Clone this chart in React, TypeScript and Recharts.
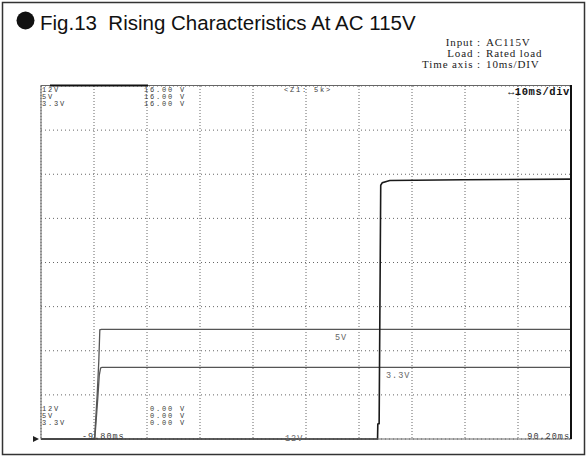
import { LineChart, Line, XAxis, YAxis, CartesianGrid } from "recharts";

// time in ms, voltage in V (scope: 10ms/div, 16V full scale)
const timeDomain = [-9.8, 90.2];
const voltDomain = [0, 16];
const timeGrid = [0.2, 10.2, 20.2, 30.2, 40.2, 50.2, 60.2, 70.2, 80.2];
const voltGrid = [2, 4, 6, 8, 10, 12, 14];

const t12 = [-9.8, 53.7, 53.75, 54.0, 54.3, 54.6, 56.0, 70.0, 90.2];
const v12 = [0, 0, 0.68, 0.7, 11.5, 11.62, 11.72, 11.75, 11.78];
const t5 = [-9.8, 0.3, 0.8, 1.1, 1.3, 1.6, 90.2];
const v5 = [0, 0, 2.0, 3.5, 4.95, 4.97, 4.97];
const t33 = [-9.8, 0.35, 0.9, 1.2, 1.45, 1.7, 90.2];
const v33 = [0, 0, 1.8, 2.9, 3.22, 3.25, 3.25];

const channels = ["12V", "5V", "3.3V"];
const fullScale = "16.00 V";
const zeroLevel = "0.00 V";
const startTime = "-9.80ms";
const endTime = "90.20ms";

const toPoints = (ts: number[], vs: number[]) => ts.map((t, i) => ({ t, v: vs[i] }));
const s12 = toPoints(t12, v12);
const s5 = toPoints(t5, v5);
const s33 = toPoints(t33, v33);

const mono = "'Liberation Mono', 'DejaVu Sans Mono', monospace";
const scopeText = { fontFamily: mono, fontSize: 7, letterSpacing: 1.8, fill: "#3a3a3a" };
const labelText = { fontFamily: mono, fontSize: 8.5, letterSpacing: 1, fill: "#666" };
const serif = { fontFamily: "'Liberation Serif', 'Times New Roman', serif", fontSize: 11, letterSpacing: 0.9, fill: "#222" };

export default function App() {
  return (
    <div style={{ position: "absolute", left: 0, top: 0, width: 587, height: 456, background: "#fff" }}>
      <LineChart
        width={587}
        height={456}
        margin={{ top: 86, right: 16, bottom: 17, left: 41 }}
      >
        <XAxis type="number" dataKey="t" domain={timeDomain} ticks={timeGrid} interval={0} hide allowDuplicatedCategory={false} />
        <YAxis type="number" dataKey="v" domain={voltDomain} ticks={voltGrid} interval={0} hide />
        <CartesianGrid horizontal={false} stroke="#666" strokeDasharray="1 2" />
        <CartesianGrid vertical={false} stroke="#666" strokeDasharray="1 3" />
        <Line data={s5} dataKey="v" type="linear" stroke="#555" strokeWidth={1.3} dot={false} isAnimationActive={false} />
        <Line data={s33} dataKey="v" type="linear" stroke="#555" strokeWidth={1.3} dot={false} isAnimationActive={false} />
        <Line data={s12} dataKey="v" type="linear" stroke="#1a1a1a" strokeWidth={1.6} dot={false} isAnimationActive={false} />
      </LineChart>

      <svg width={587} height={456} style={{ position: "absolute", left: 0, top: 0, pointerEvents: "none" }}>
        {/* outer frame */}
        <rect x={2.5} y={2.5} width={582} height={452} fill="none" stroke="#333" strokeWidth={1.5} />

        {/* title */}
        <circle cx={25.5} cy={20.5} r={9} fill="#111" />
        <text x={40} y={30} style={{ whiteSpace: "pre" }} fontFamily="'Liberation Sans', Arial, sans-serif" fontSize={20.5} fill="#111">
          Fig.13  Rising Characteristics At AC 115V
        </text>

        {/* conditions */}
        <text x={481} y={45.5} textAnchor="end" {...serif}>Input :</text>
        <text x={486} y={45.5} {...serif}>AC115V</text>
        <text x={481} y={56.5} textAnchor="end" {...serif}>Load :</text>
        <text x={486} y={56.5} {...serif}>Rated load</text>
        <text x={481} y={67.5} textAnchor="end" {...serif}>Time axis :</text>
        <text x={486} y={67.5} {...serif}>10ms/DIV</text>

        {/* scope frame */}
        <rect x={41} y={85.5} width={530} height={353.5} fill="none" stroke="#666" strokeWidth={1} />
        <line x1={50} y1={85.5} x2={148} y2={85.5} stroke="#111" strokeWidth={2} />
        <line x1={571} y1={85} x2={571} y2={439} stroke="#111" strokeWidth={2} />
        <polygon points="33,436 39,439 33,442" fill="#222" />

        {/* scope readouts */}
        {channels.map((c, i) => (
          <text key={"tl" + c} x={42} y={92 + i * 7} {...scopeText}>{c}</text>
        ))}
        {channels.map((c, i) => (
          <text key={"tr" + c} x={186} y={92 + i * 7} textAnchor="end" {...scopeText}>{fullScale}</text>
        ))}
        {channels.map((c, i) => (
          <text key={"bl" + c} x={42} y={411 + i * 7} {...scopeText}>{c}</text>
        ))}
        {channels.map((c, i) => (
          <text key={"br" + c} x={186} y={411 + i * 7} textAnchor="end" {...scopeText}>{zeroLevel}</text>
        ))}
        <text x={284} y={92} {...scopeText}>{"<Z1: 5k>"}</text>
        <text x={570} y={95} textAnchor="end" fontFamily={mono} fontSize={10.5} fontWeight="bold" letterSpacing={0.6} fill="#111">↔10ms/div</text>
        <text x={82} y={439} {...labelText} fill="#3a3a3a">{startTime}</text>
        <text x={570} y={439} textAnchor="end" {...labelText} fill="#3a3a3a">{endTime}</text>

        {/* trace labels */}
        <text x={335} y={340} {...labelText}>5V</text>
        <text x={386} y={378} {...labelText}>3.3V</text>
        <text x={285} y={441} {...labelText}>12V</text>
      </svg>
    </div>
  );
}
